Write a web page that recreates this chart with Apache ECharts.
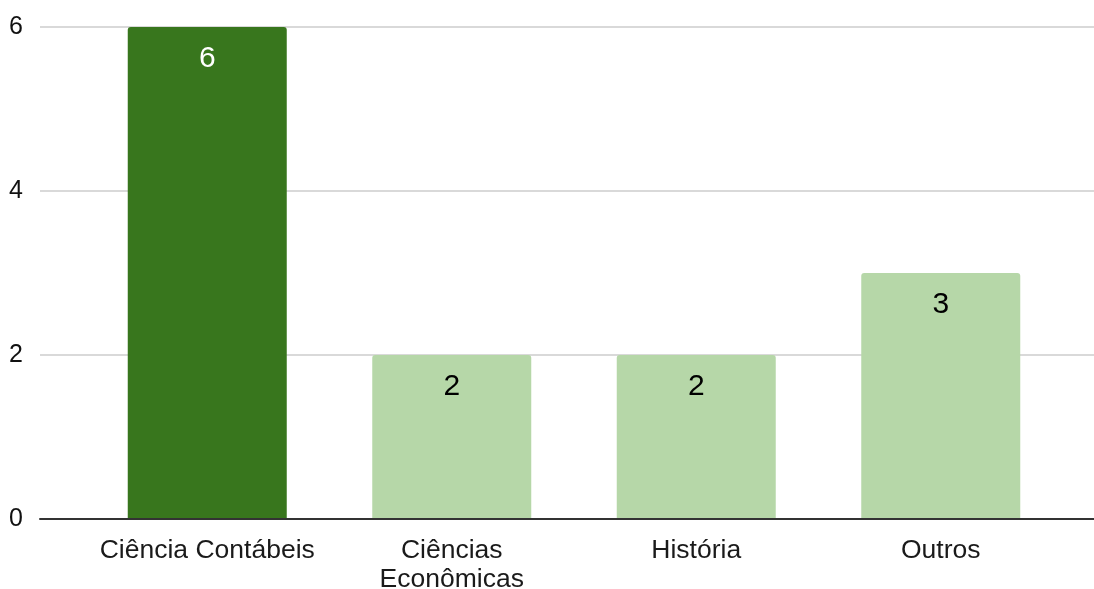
<!DOCTYPE html>
<html>
<head>
<meta charset="utf-8">
<script src="https://cdn.jsdelivr.net/npm/echarts@6/dist/echarts.min.js"></script>
<style>
  html, body { margin: 0; padding: 0; background: #fff; }
  #chart { width: 1094px; height: 589px; }
</style>
</head>
<body>
<div id="chart"></div>
<script>
// Number of people per field of study
const categories = ['Ciência Contábeis', 'Ciências\nEconômicas', 'História', 'Outros'];
const values = [6, 2, 2, 3];
const yMin = 0;
const yMax = 6;
const yInterval = 2;

// Styling: first bar highlighted in dark green
const darkGreen = '#38761d';
const lightGreen = '#b6d7a8';
const font = 'Liberation Sans, Arial, sans-serif';

const chart = echarts.init(document.getElementById('chart'), null, { renderer: 'canvas' });

const barData = values.map((v, i) => ({
  value: v,
  itemStyle: { color: i === 0 ? darkGreen : lightGreen },
  label: { color: i === 0 ? '#ffffff' : '#000000' }
}));

chart.setOption({
  animation: false,
  backgroundColor: '#ffffff',
  grid: [
    // frame grid: horizontal rules, y labels, baseline
    { left: 40, right: 0, top: 27, bottom: 70, outerBoundsMode: 'none', containLabel: false },
    // bar grid
    { left: 85, right: 31, top: 27, bottom: 70, outerBoundsMode: 'none', containLabel: false }
  ],
  xAxis: [
    {
      gridIndex: 0, type: 'value', min: 0, max: 1,
      axisLine: { show: true, lineStyle: { color: '#333333', width: 2 } },
      axisTick: { show: false }, axisLabel: { show: false }, splitLine: { show: false },
      z: 5
    },
    {
      gridIndex: 1, type: 'category', data: categories,
      axisLine: { show: false }, axisTick: { show: false },
      axisLabel: {
        color: '#1a1a1a', fontFamily: font, fontSize: 26.5, lineHeight: 29,
        margin: 17, interval: 0
      }
    }
  ],
  yAxis: [
    {
      gridIndex: 0, type: 'value', min: yMin, max: yMax, interval: yInterval,
      axisLine: { show: false }, axisTick: { show: false },
      axisLabel: { color: '#111111', fontFamily: font, fontSize: 25, margin: 17, padding: [4, 0, 0, 0] },
      splitLine: { show: true, lineStyle: { color: '#cccccc', width: 1.5 } }
    },
    {
      gridIndex: 1, type: 'value', min: yMin, max: yMax, interval: yInterval, show: false
    }
  ],
  series: [
    {
      type: 'bar',
      xAxisIndex: 1, yAxisIndex: 1,
      data: barData,
      barWidth: 159,
      itemStyle: { borderRadius: [3, 3, 0, 0] },
      label: {
        show: true, position: 'insideTop', distance: 17,
        fontFamily: font, fontSize: 30
      },
      z: 3
    }
  ]
});
</script>
</body>
</html>
